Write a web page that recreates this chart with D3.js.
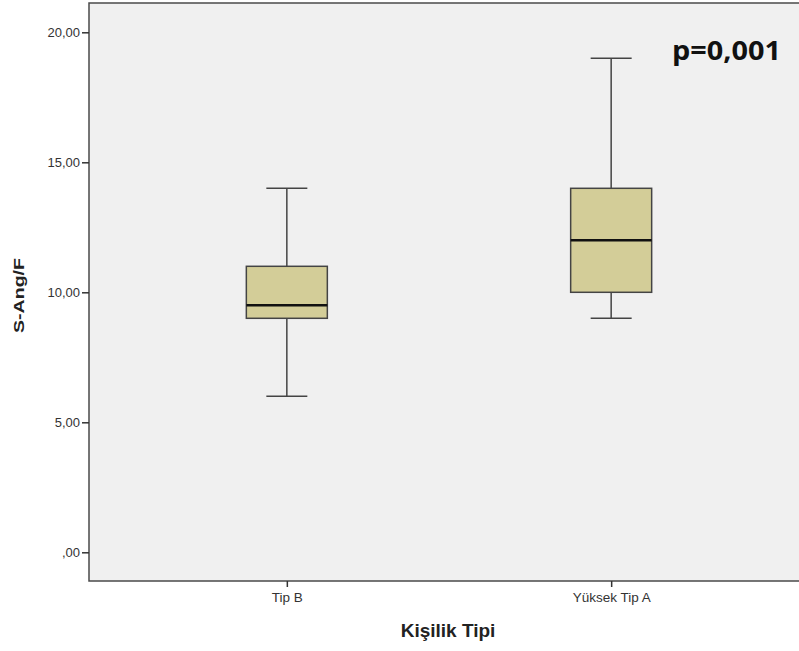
<!DOCTYPE html>
<html><head><meta charset="utf-8">
<script src="https://cdn.jsdelivr.net/npm/d3@7"></script>
<style>body{margin:0;background:#fff;}svg{display:block;}</style>
</head><body>
<script>
const categories = ["Tip B", "Yüksek Tip A"];
const whiskerLow = [6, 9];
const q1 = [9, 10];
const median = [9.5, 12];
const q3 = [11, 14];
const whiskerHigh = [14, 19];
const yTicks = [0, 5, 10, 15, 20];
const yTickLabels = [",00", "5,00", "10,00", "15,00", "20,00"];

const W = 799, H = 651;
const L = 89, T = 3, R = 809, B = 581;
const svg = d3.select("body").append("svg").attr("width", W).attr("height", H);

const y = d3.scaleLinear().domain([0, 20]).range([552.3, 32.3]);
const x = d3.scalePoint().domain(categories).range([L, R]).padding(0.61);

svg.append("rect").attr("x", L).attr("y", T).attr("width", R - L).attr("height", B - T)
  .attr("fill", "#f0f0f0").attr("stroke", "#4a4a4a").attr("stroke-width", 1.5);

const yAxis = svg.append("g").attr("transform", `translate(${L},0)`)
  .call(d3.axisLeft(y).tickValues(yTicks).tickFormat((d, i) => yTickLabels[i]).tickSize(7).tickPadding(2));
yAxis.select(".domain").remove();
yAxis.selectAll("line").attr("stroke", "#333").attr("stroke-width", 1.5);
yAxis.selectAll("text").attr("font-family", "Arial, 'Liberation Sans', sans-serif").attr("font-size", 13).attr("fill", "#333");

const xAxis = svg.append("g").attr("transform", `translate(0,${B})`)
  .call(d3.axisBottom(x).tickSize(6).tickPadding(5));
xAxis.select(".domain").remove();
xAxis.selectAll("line").attr("stroke", "#333").attr("stroke-width", 1.5);
xAxis.selectAll("text").attr("font-family", "Arial, 'Liberation Sans', sans-serif").attr("font-size", 13.5).attr("fill", "#333");

const boxW = 81, capW = 41;
const data = categories.map((c, i) => ({c, lo: whiskerLow[i], q1: q1[i], med: median[i], q3: q3[i], hi: whiskerHigh[i]}));
const g = svg.append("g");
data.forEach(d => {
  const cx = x(d.c);
  const gg = g.append("g");
  gg.append("line").attr("x1", cx).attr("x2", cx).attr("y1", y(d.hi)).attr("y2", y(d.q3)).attr("stroke", "#444").attr("stroke-width", 1.5);
  gg.append("line").attr("x1", cx).attr("x2", cx).attr("y1", y(d.q1)).attr("y2", y(d.lo)).attr("stroke", "#444").attr("stroke-width", 1.5);
  gg.append("line").attr("x1", cx - capW / 2).attr("x2", cx + capW / 2).attr("y1", y(d.hi)).attr("y2", y(d.hi)).attr("stroke", "#444").attr("stroke-width", 1.5);
  gg.append("line").attr("x1", cx - capW / 2).attr("x2", cx + capW / 2).attr("y1", y(d.lo)).attr("y2", y(d.lo)).attr("stroke", "#444").attr("stroke-width", 1.5);
  gg.append("rect").attr("x", cx - boxW / 2).attr("y", y(d.q3)).attr("width", boxW).attr("height", y(d.q1) - y(d.q3))
    .attr("fill", "#d3cd98").attr("stroke", "#444").attr("stroke-width", 1.5);
  gg.append("line").attr("x1", cx - boxW / 2).attr("x2", cx + boxW / 2).attr("y1", y(d.med)).attr("y2", y(d.med)).attr("stroke", "#111").attr("stroke-width", 2.5);
});

svg.append("text").attr("transform", `translate(24,295.5) rotate(-90)`).attr("text-anchor", "middle")
  .attr("font-family", "Arial, 'Liberation Sans', sans-serif").attr("font-weight", "bold").attr("font-size", 15)
  .attr("textLength", 75).attr("lengthAdjust", "spacingAndGlyphs").attr("fill", "#222").text("S-Ang/F");
svg.append("text").attr("x", 448).attr("y", 637).attr("text-anchor", "middle")
  .attr("font-family", "Arial, 'Liberation Sans', sans-serif").attr("font-weight", "bold").attr("font-size", 19).attr("fill", "#222").text("Kişilik Tipi");
svg.append("text").attr("x", 672).attr("y", 60)
  .attr("font-family", "'Open Sans', Lato, sans-serif").attr("font-weight", "bold").attr("font-size", 27)
  .attr("textLength", 109).attr("lengthAdjust", "spacingAndGlyphs").attr("fill", "#111").text("p=0,001");
</script>
</body></html>
